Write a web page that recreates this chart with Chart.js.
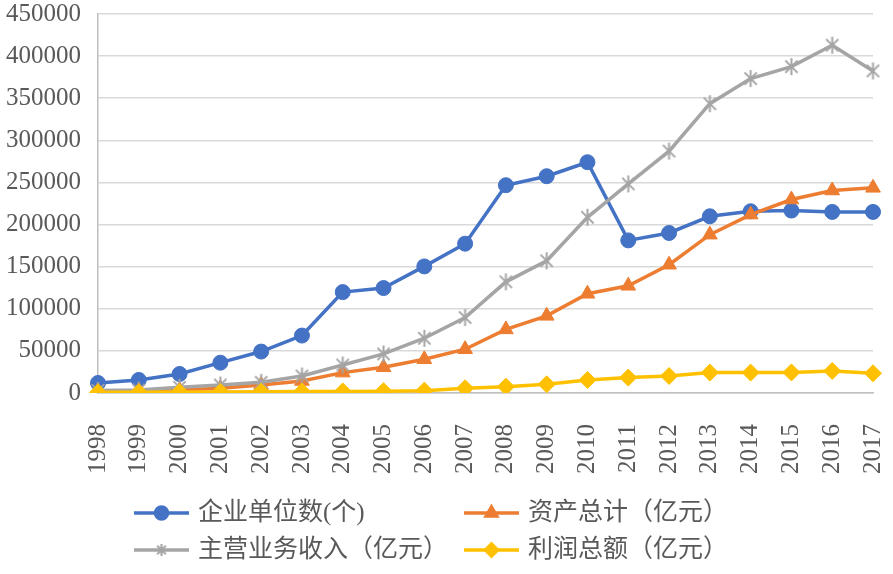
<!DOCTYPE html>
<html>
<head>
<meta charset="utf-8">
<script src="https://cdn.jsdelivr.net/npm/chart.js@4/dist/chart.umd.min.js"></script>
<style>
  html, body { margin: 0; padding: 0; background: #fff; }
  #wrap { width: 893px; height: 574px; position: relative; }
</style>
</head>
<body>
<div id="wrap"><canvas id="c"></canvas></div>
<script>
// values
const years = ['1998','1999','2000','2001','2002','2003','2004','2005','2006','2007',
               '2008','2009','2010','2011','2012','2013','2014','2015','2016','2017'];
const enterprises = [11900, 15500, 22600, 36000, 49200, 68200, 119800, 124600, 150300, 177300,
                     246700, 257400, 274000, 181200, 190000, 209800, 215800, 216600, 215000, 215000];
const assets = [2000, 2500, 3500, 5500, 9500, 14300, 24200, 30500, 40000, 52000,
                75500, 91600, 117800, 127300, 152300, 188000, 211800, 229700, 240400, 243600];
const revenue = [3000, 3500, 6800, 9500, 12700, 20200, 33300, 46400, 65000, 89600,
                 132000, 157000, 208600, 248300, 287200, 343500, 373300, 387500, 412900, 382400];
const profit = [800, 1000, 1200, 1300, 1500, 1700, 1900, 2200, 2800, 5600,
                7500, 10300, 15500, 18300, 20200, 24200, 24200, 24400, 26200, 23400];
const seriesNames = ['企业单位数(个)', '资产总计（亿元）', '主营业务收入（亿元）', '利润总额（亿元）'];
const yTicks = [0, 50000, 100000, 150000, 200000, 250000, 300000, 350000, 400000, 450000];

const BLUE = '#4472C4', ORANGE = '#ED7D31', GRAY = '#A5A5A5', YELLOW = '#FFC000';
const TXT = '#595959';

// excel style "star" marker: an X with a vertical bar
function starMark(r, color) {
  const c = document.createElement('canvas');
  const s = Math.ceil(r * 2 + 4);
  c.width = s; c.height = s;
  const g = c.getContext('2d');
  g.strokeStyle = color; g.lineWidth = 2; g.lineCap = 'butt';
  const m = s / 2, d = r * 0.72;
  g.beginPath();
  g.moveTo(m - d, m - d); g.lineTo(m + d, m + d);
  g.moveTo(m + d, m - d); g.lineTo(m - d, m + d);
  g.moveTo(m, m - r); g.lineTo(m, m + r);
  g.stroke();
  return c;
}

function ds(label, data, color, style, radius, order) {
  return {
    label: label, data: data, borderColor: color, backgroundColor: color,
    borderWidth: 3.5, pointStyle: style, pointRadius: radius, pointHoverRadius: radius,
    pointBorderColor: color, pointBackgroundColor: color, pointBorderWidth: 1,
    tension: 0, order: order
  };
}

// no extra room for overflowing end labels, the plot sits where the original does
function noOverflow(scale) {
  scale.paddingTop = 0; scale.paddingBottom = 0;
  scale.paddingLeft = 0; scale.paddingRight = 0;
}

// two-column legend below the plot, like the original
const legendPlugin = {
  id: 'gridLegend',
  afterDraw(chart) {
    const ctx = chart.ctx;
    const cols = [134, 464];
    const rows = [513, 550];
    const sets = chart.data.datasets;
    ctx.save();
    sets.forEach((d, i) => {
      const x = cols[i % 2], y = rows[Math.floor(i / 2)];
      ctx.strokeStyle = d.borderColor;
      ctx.lineWidth = 3.5;
      ctx.beginPath(); ctx.moveTo(x, y); ctx.lineTo(x + 55, y); ctx.stroke();
      const cx = x + 27.5;
      ctx.fillStyle = d.borderColor;
      if (d.pointStyle instanceof HTMLCanvasElement) {
        const img = starMark(6, d.borderColor);
        ctx.drawImage(img, cx - img.width / 2, y - img.height / 2);
      } else {
        Chart.helpers.drawPoint(ctx, {pointStyle: d.pointStyle, radius: 6, borderWidth: 1, rotation: 0}, cx, y);
        ctx.fill();
      }
      ctx.fillStyle = TXT;
      ctx.font = '25px "Liberation Serif", "Noto Sans CJK SC", serif';
      ctx.textBaseline = 'middle';
      ctx.textAlign = 'left';
      ctx.fillText(d.label, x + 64, y);
    });
    ctx.restore();
  }
};

new Chart(document.getElementById('c'), {
  type: 'line',
  data: {
    labels: years,
    datasets: [
      ds(seriesNames[0], enterprises, BLUE, 'circle', 7.5, 3),
      ds(seriesNames[1], assets, ORANGE, 'triangle', 8.5, 2),
      ds(seriesNames[2], revenue, GRAY, starMark(8.5, GRAY), 8, 1),
      ds(seriesNames[3], profit, YELLOW, 'rectRot', 8.5, 0)
    ]
  },
  options: {
    responsive: true,
    maintainAspectRatio: false,
    animation: false,
    devicePixelRatio: 1,
    layout: { padding: { top: 14, right: 20, bottom: 0, left: 0 } },
    plugins: { legend: { display: false }, tooltip: { enabled: false } },
    scales: {
      x: {
        grid: { display: false },
        border: { display: true, color: '#BFBFBF', width: 1.5 },
        ticks: {
          color: TXT, font: { family: '"Liberation Serif", serif', size: 25 },
          minRotation: 90, maxRotation: 90, padding: 23, autoSkip: false
        },
        afterFit(scale) { scale.height = 181; noOverflow(scale); }
      },
      y: {
        min: 0, max: 450000,
        afterBuildTicks(scale) { scale.ticks = yTicks.map(v => ({ value: v })); },
        grid: { color: '#D9D9D9', lineWidth: 1.5, drawTicks: false },
        border: { display: true, color: '#BFBFBF', width: 1.5 },
        ticks: {
          color: TXT, font: { family: '"Liberation Serif", serif', size: 25 },
          padding: 17,
          callback: v => String(v)
        },
        afterFit(scale) { scale.width = 98; noOverflow(scale); }
      }
    }
  },
  plugins: [legendPlugin]
});
</script>
</body>
</html>
